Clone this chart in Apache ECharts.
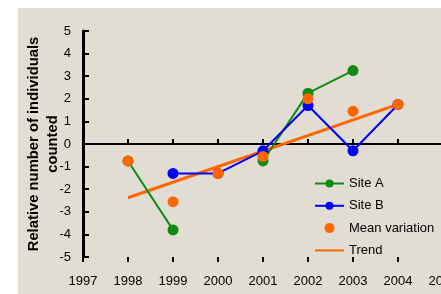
<!DOCTYPE html>
<html>
<head>
<meta charset="utf-8">
<script src="https://cdn.jsdelivr.net/npm/echarts@6/dist/echarts.min.js"></script>
<style>
  html, body { margin: 0; padding: 0; background: #ffffff; }
  #chart { width: 441px; height: 294px; }
</style>
</head>
<body>
<div id="chart"></div>
<script>
var years = [1998, 1999, 2000, 2001, 2002, 2003, 2004];
var siteA = [-0.75, -3.8, null, -0.75, 2.25, 3.25, null];
var siteB = [null, -1.3, -1.3, -0.3, 1.7, -0.3, 1.75];
var meanVariation = [-0.75, -2.55, -1.3, -0.55, 2.0, 1.45, 1.75];
var trendYears = [1998, 2004];
var trendValues = [-2.38, 1.75];

function pairs(xs, ys) {
    return xs.map(function (x, i) { return [x, ys[i]]; });
}

var myChart = echarts.init(document.getElementById('chart'));

var font = 'Liberation Sans, Arial, sans-serif';

var option = {
    backgroundColor: '#ffffff',
    animation: false,
    graphic: [{
        type: 'rect',
        z: -10,
        shape: { x: 18, y: 8, width: 430, height: 290 },
        style: { fill: '#e2ddd3' }
    }],
    grid: { left: 83, right: -2, top: 31, bottom: 37, outerBoundsMode: 'none', containLabel: false },
    legend: {
        orient: 'vertical',
        left: 314,
        top: 177,
        padding: 0,
        itemGap: 9.3,
        itemWidth: 29,
        itemHeight: 10,
        textStyle: { fontFamily: font, fontSize: 13, color: '#000' },
        data: ['Site A', 'Site B', 'Mean variation', { name: 'Trend', itemStyle: { opacity: 0 } }]
    },
    xAxis: [{
        type: 'value',
        min: 1997, max: 2005, interval: 1,
        position: 'bottom',
        axisLine: { show: false, onZero: false },
        axisTick: { show: false },
        splitLine: { show: false },
        axisLabel: { margin: 18, fontFamily: font, fontSize: 13, color: '#000', formatter: function (v) { return String(v); } }
    }, {
        type: 'value',
        min: 1997, max: 2005, interval: 1,
        position: 'bottom',
        axisLine: { show: true, onZero: true, lineStyle: { color: '#000', width: 2 } },
        axisTick: { show: true, inside: true, length: 5, lineStyle: { color: '#000', width: 2 } },
        splitLine: { show: false },
        axisLabel: { show: false }
    }, {
        type: 'value',
        min: 1997, max: 2005, interval: 1,
        position: 'bottom',
        axisLine: { show: false, onZero: true },
        axisTick: { show: true, inside: false, length: 5, lineStyle: { color: '#000', width: 2 } },
        splitLine: { show: false },
        axisLabel: { show: false }
    }],
    yAxis: {
        type: 'value',
        min: -5, max: 5, interval: 1,
        name: 'Relative number of individuals\ncounted',
        nameLocation: 'middle',
        nameRotate: 90,
        nameGap: 21,
        nameMoveOverlap: false,
        nameTextStyle: { fontFamily: font, fontSize: 14.8, fontWeight: 'bold', color: '#000', lineHeight: 19 },
        axisLine: { show: true, lineStyle: { color: '#000', width: 3 } },
        axisTick: { show: true, inside: true, length: 6, lineStyle: { color: '#000', width: 2 } },
        splitLine: { show: false },
        axisLabel: { margin: 12, fontFamily: font, fontSize: 13, color: '#000' }
    },
    series: [{
        name: 'Trend',
        type: 'line',
        data: pairs(trendYears, trendValues),
        symbol: 'none',
        itemStyle: { color: '#ff6600' },
        lineStyle: { color: '#ff6600', width: 3 },
        z: 3
    }, {
        name: 'Site A',
        type: 'line',
        data: pairs(years, siteA),
        symbol: 'circle',
        symbolSize: 11,
        itemStyle: { color: '#108a10' },
        lineStyle: { color: '#108a10', width: 2 },
        z: 4
    }, {
        name: 'Site B',
        type: 'line',
        data: pairs(years, siteB),
        symbol: 'circle',
        symbolSize: 11,
        itemStyle: { color: '#0000ff' },
        lineStyle: { color: '#0000ff', width: 2 },
        z: 5
    }, {
        name: 'Mean variation',
        type: 'scatter',
        data: pairs(years, meanVariation),
        symbol: 'circle',
        symbolSize: 11,
        itemStyle: { color: '#ff6600', opacity: 1 },
        z: 6
    }]
};

myChart.setOption(option);
</script>
</body>
</html>
